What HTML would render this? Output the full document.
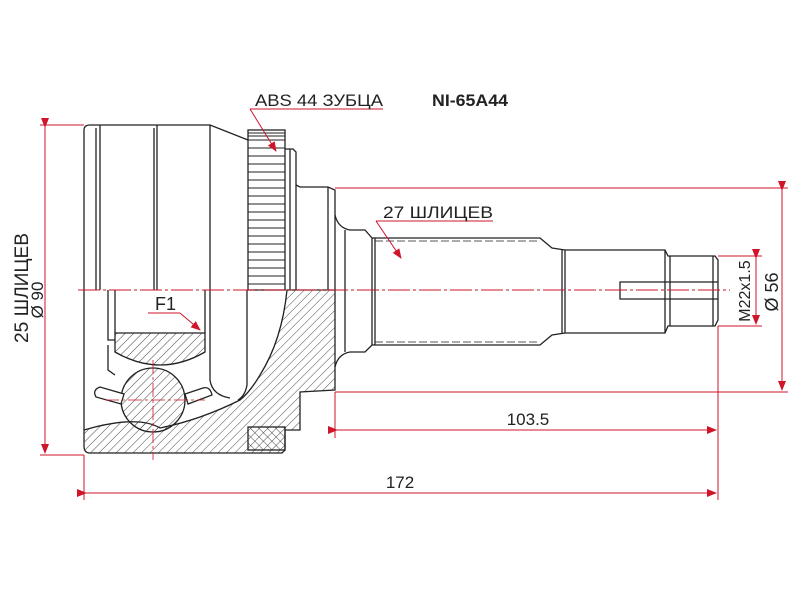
<!DOCTYPE html>
<html><head><meta charset="utf-8"><style>
html,body{margin:0;padding:0;background:#fff;}
svg{display:block;font-family:"Liberation Sans",sans-serif;}
</style></head><body>
<svg width="800" height="600" viewBox="0 0 800 600" xmlns="http://www.w3.org/2000/svg">
<defs>
<pattern id="h" patternUnits="userSpaceOnUse" width="6" height="6" patternTransform="rotate(45)">
<line x1="0" y1="0" x2="0" y2="6" stroke="#333" stroke-width="0.9"/>
</pattern>
<pattern id="h2" patternUnits="userSpaceOnUse" width="6" height="6" patternTransform="rotate(-45)">
<line x1="0" y1="0" x2="0" y2="6" stroke="#333" stroke-width="0.9"/>
</pattern>
<marker id="a" markerWidth="10" markerHeight="8" refX="9" refY="4" orient="auto" markerUnits="userSpaceOnUse">
<path d="M0,0 L10,4 L0,8 Z" fill="#d0142a"/>
</marker>
</defs>
<rect width="800" height="600" fill="#fff"/>

<g fill="none" stroke="#222" stroke-width="1.3">
<path d="M84,290 L84,130 Q84,125 90,125 L210,125 L248,140"/>
<line x1="100" y1="125" x2="100" y2="290"/>
<line x1="96" y1="128" x2="96" y2="290"/>
<line x1="157" y1="125" x2="157" y2="290"/>
<line x1="154" y1="128" x2="154" y2="290"/>
<line x1="210" y1="125" x2="210" y2="290"/>
<rect x="248" y="130" width="37" height="160"/>
<path d="M285,149 L293,149 L296,152 L296,290"/>
<line x1="290" y1="149" x2="290" y2="290"/>
<path d="M296,185 L300,187 L328,187 L335,190 L335,290"/>
<line x1="328" y1="187" x2="328" y2="290"/>
<path d="M335,215 Q338,228 350,230 L365,230 L372,238 L540,238 L552,248 L565,250 L665,250 L668,256 L715,256 L718,260 L718,320 L715,326 L668,326 L665,333 L565,333 L552,335 L540,345 L372,345 L365,352 L350,352 Q338,354 335,367"/>
<line x1="345" y1="230" x2="345" y2="352"/>
<line x1="372" y1="238" x2="372" y2="345"/>
<line x1="375" y1="238" x2="375" y2="345"/>
<line x1="562" y1="250" x2="562" y2="333"/>
<line x1="565" y1="250" x2="565" y2="333"/>
<line x1="665" y1="250" x2="665" y2="333"/>
<line x1="670" y1="256" x2="670" y2="326"/>
<line x1="713" y1="256" x2="713" y2="326"/>
<path d="M718,282 L620,282 L620,299 L718,299"/>
<line x1="375" y1="241" x2="540" y2="241" stroke-dasharray="8,3" stroke-width="0.8"/>
<line x1="375" y1="342" x2="540" y2="342" stroke-dasharray="8,3" stroke-width="0.8"/>
</g>
<g stroke="#222" stroke-width="1">
<line x1="248" y1="133" x2="285" y2="133"/><line x1="248" y1="136" x2="285" y2="136"/><line x1="248" y1="140" x2="285" y2="140"/>
<line x1="248" y1="148" x2="285" y2="148"/><line x1="248" y1="156" x2="285" y2="156"/><line x1="248" y1="164" x2="285" y2="164"/>
<line x1="248" y1="172" x2="285" y2="172"/><line x1="248" y1="180" x2="285" y2="180"/><line x1="248" y1="188" x2="285" y2="188"/>
<line x1="248" y1="196" x2="285" y2="196"/><line x1="248" y1="204" x2="285" y2="204"/><line x1="248" y1="212" x2="285" y2="212"/>
<line x1="248" y1="220" x2="285" y2="220"/><line x1="248" y1="228" x2="285" y2="228"/><line x1="248" y1="236" x2="285" y2="236"/>
<line x1="248" y1="244" x2="285" y2="244"/><line x1="248" y1="252" x2="285" y2="252"/><line x1="248" y1="260" x2="285" y2="260"/>
<line x1="248" y1="268" x2="285" y2="268"/><line x1="248" y1="276" x2="285" y2="276"/><line x1="248" y1="284" x2="285" y2="284"/>
</g>

<g stroke="#222" stroke-width="1.3">
<path d="M287,290 L335,290 L335,390 L300,392 L300,430 L285,430 L285,450 L282,453 L100,453 L90,453 Q84,453 84,446 L84,430 L95,427 Q140,416 160,428 Q200,420 240,400 Q250,392 260,375 Q282,340 287,290 Z" fill="url(#h)"/>
<rect x="248" y="427" width="37" height="23" fill="url(#h2)"/>
<path d="M115,333 L205,333 L205,352 Q160,378 115,352 Z" fill="url(#h)"/>
<circle cx="153" cy="400" r="32" fill="url(#h)"/>
<path d="M100,387 Q92,390 96,397 L121,404 L124,394 Z" fill="#fff"/>
<path d="M185,394 L203,388 Q210,386 212,395 L188,404 Z" fill="#fff"/>
<g fill="none">
<line x1="84" y1="290" x2="84" y2="430"/>
<path d="M108,290 L108,340 L115,340"/>
<line x1="115" y1="290" x2="115" y2="333"/>
<line x1="205" y1="290" x2="205" y2="333"/>
<path d="M210,290 L210,380 Q212,395 230,398"/>
<path d="M247,290 L247,385 Q245,396 238,400"/>
<path d="M108,345 L108,370 L115,375"/>
</g>
</g>

<line x1="78" y1="290" x2="730" y2="290" stroke="#d0142a" stroke-width="1" stroke-dasharray="22,3,3,3"/>
<line x1="153" y1="360" x2="153" y2="460" stroke="#d0142a" stroke-width="0.8" stroke-dasharray="14,3,3,3"/>
<line x1="105" y1="400" x2="205" y2="400" stroke="#d0142a" stroke-width="0.8" stroke-dasharray="14,3,3,3"/>

<g stroke="#d0142a" stroke-width="1" fill="none">
<line x1="40" y1="125" x2="84" y2="125"/>
<line x1="40" y1="455" x2="84" y2="455"/>
<line x1="45" y1="127" x2="45" y2="453" marker-start="url(#a)" marker-end="url(#a)"/>
<line x1="84" y1="455" x2="84" y2="500"/>
<line x1="718" y1="326" x2="718" y2="500"/>
<line x1="335" y1="392" x2="335" y2="438"/>
<line x1="86" y1="493" x2="716" y2="493" marker-start="url(#a)" marker-end="url(#a)"/>
<line x1="337" y1="430" x2="716" y2="430" marker-start="url(#a)" marker-end="url(#a)"/>
<line x1="335" y1="188" x2="788" y2="188"/>
<line x1="335" y1="392" x2="788" y2="392"/>
<line x1="782" y1="190" x2="782" y2="390" marker-start="url(#a)" marker-end="url(#a)"/>
<line x1="718" y1="256" x2="762" y2="256"/>
<line x1="718" y1="326" x2="762" y2="326"/>
<line x1="756" y1="258" x2="756" y2="324" marker-start="url(#a)" marker-end="url(#a)"/>
<line x1="250" y1="109" x2="383" y2="109"/>
<line x1="250" y1="109" x2="276" y2="151" marker-end="url(#a)"/>
<line x1="376" y1="221" x2="493" y2="221"/>
<line x1="376" y1="221" x2="401" y2="258" marker-end="url(#a)"/>
<line x1="148" y1="313" x2="180" y2="313"/>
<path d="M180,313 L200,330" marker-end="url(#a)"/>
</g>

<g fill="#222" font-size="17">
<text x="255" y="106" textLength="128" lengthAdjust="spacingAndGlyphs">ABS 44 ЗУБЦА</text>
<text x="432" y="106" font-weight="bold" textLength="76" lengthAdjust="spacingAndGlyphs">NI-65A44</text>
<text x="383" y="218" textLength="110" lengthAdjust="spacingAndGlyphs">27 ШЛИЦЕВ</text>
<text x="155" y="310" font-size="18">F1</text>
<text x="528" y="425" text-anchor="middle">103.5</text>
<text x="400" y="488" text-anchor="middle">172</text>
<text transform="translate(28,288) rotate(-90)" text-anchor="middle" font-size="19" textLength="110" lengthAdjust="spacingAndGlyphs">25 ШЛИЦЕВ</text>
<text transform="translate(43,300) rotate(-90)" text-anchor="middle" font-size="17">Ø 90</text>
<text transform="translate(778,292) rotate(-90)" text-anchor="middle" font-size="18">Ø 56</text>
<text transform="translate(750,291) rotate(-90)" text-anchor="middle" font-size="16">M22x1.5</text>
</g>
</svg>
</body></html>
